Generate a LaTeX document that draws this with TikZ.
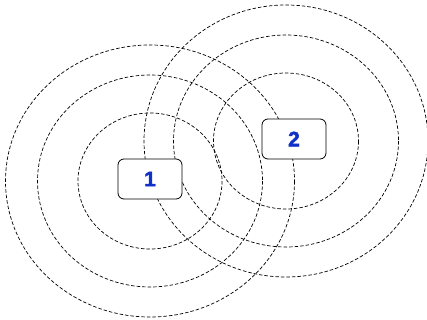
\documentclass[tikz,border=0pt]{standalone}
\usepackage{fontspec}
\setmainfont{Liberation Sans}
\newfontfamily\heavyfont{Liberation Sans}[BoldFeatures={FakeBold=2}]
\definecolor{numblue}{RGB}{16,48,200}
\begin{document}
\begin{tikzpicture}[x=1pt,y=-1pt,
  ring/.style={draw=black,line width=0.7pt,dash pattern=on 3.5pt off 2pt},
  box/.style={draw=black,fill=white,rounded corners=6pt,line width=0.8pt,minimum width=64pt,minimum height=40pt,inner sep=0pt,font=\heavyfont\fontsize{21}{24}\selectfont\bfseries,text=numblue}]
\useasboundingbox (0,0) rectangle (427,320);
\coordinate (c1) at (150,181);
\coordinate (c2) at (286,141);
\draw[ring] (c1) ellipse [x radius=72,y radius=68];
\draw[ring] (c1) ellipse [x radius=112.5,y radius=106];
\draw[ring] (c1) ellipse [x radius=144.5,y radius=136];
\draw[ring] (c2) ellipse [x radius=72.5,y radius=68];
\draw[ring] (c2) ellipse [x radius=112.5,y radius=106];
\draw[ring] (c2) ellipse [x radius=142,y radius=136];
\node[box] (n1) at (150,179) {1};
\node[box] (n2) at (294,139) {2};
\end{tikzpicture}
\end{document}
